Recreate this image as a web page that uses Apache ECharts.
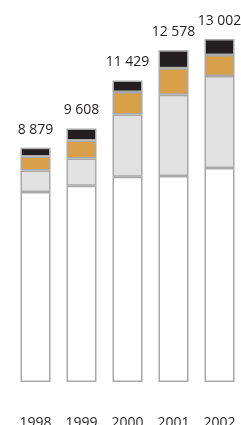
<!DOCTYPE html>
<html>
<head>
<meta charset="utf-8">
<script src="https://cdn.jsdelivr.net/npm/echarts@6/dist/echarts.min.js"></script>
<style>
  html, body { margin: 0; padding: 0; background: #fff; }
  #chart { width: 241px; height: 425px; }
</style>
</head>
<body>
<div id="chart"></div>
<script>
// data
const years = ['1998', '1999', '2000', '2001', '2002']
const base = [7197, 7436, 7778, 7804, 8108]
const second = [820, 1036, 2364, 3085, 3490]
const third = [531, 683, 850, 998, 797]
const top4 = [331, 453, 437, 691, 607]
const totals = [8879, 9608, 11429, 12578, 13002]

const fmt = n => String(n).replace(/\B(?=(\d{3})+(?!\d))/g, ' ')

const border = '#a8a8a8'
function seg(name, data, color) {
    return {
        name: name,
        type: 'bar',
        stack: 'all',
        data: data,
        barWidth: 30,
        itemStyle: { color: color, borderColor: border, borderWidth: 1.5 },
        emphasis: { disabled: true }
    }
}

const series = [
    seg('a', base, '#ffffff'),
    seg('b', second, '#e1e1e1'),
    seg('c', third, '#d9a04a'),
    seg('d', top4, '#231f20')
]
// total labels sit on top of the last segment
series[3].label = {
    show: true,
    position: 'top',
    distance: 11,
    color: '#231f20',
    fontSize: 14,
    fontFamily: 'Open Sans',
    formatter: p => fmt(totals[p.dataIndex])
}

const chart = echarts.init(document.getElementById('chart'))
chart.setOption({
    animation: false,
    grid: { left: 12.5, width: 230, top: 39, bottom: 43, outerBoundsMode: 'none' },
    xAxis: {
        type: 'category',
        data: years,
        axisLine: { show: false },
        axisTick: { show: false },
        axisLabel: { margin: 34, fontSize: 14, color: '#231f20', fontFamily: 'Open Sans' }
    },
    yAxis: {
        type: 'value',
        min: 0,
        max: 13000,
        show: false,
        splitLine: { show: false }
    },
    series: series
})
</script>
</body>
</html>
